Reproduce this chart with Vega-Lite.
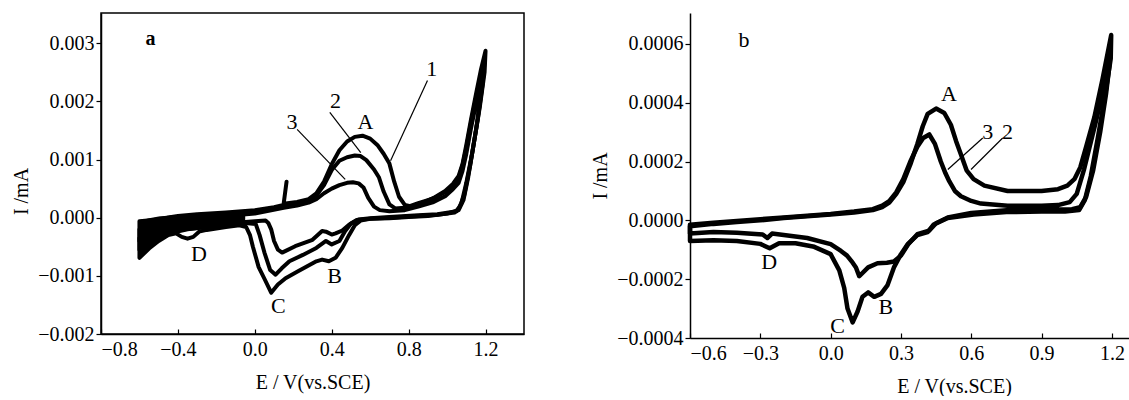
{
"$schema": "https://vega.github.io/schema/vega-lite/v6.json",
"padding": {"left": 10, "top": 12, "right": 0, "bottom": 0},
"config": {
  "font": "Liberation Serif",
  "view": {"stroke": "black", "strokeWidth": 1.5},
  "concat": {"spacing": 65},
  "axis": {"grid": false, "domainColor": "black", "domainWidth": 1.5, "tickColor": "black", "tickWidth": 1.2, "labelColor": "black", "titleColor": "black", "labelFontSize": 20, "titleFontSize": 20, "titleFontWeight": "normal", "labelFont": "Liberation Serif", "titleFont": "Liberation Serif"},
  "axisX": {"tickSize": -5, "labelPadding": 10, "titlePadding": 13},
  "axisY": {"tickSize": 5, "labelPadding": 2, "titlePadding": 6}
},
"datasets": {
  "blob": [
    {"E":-0.6,"lo":-0.00069,"hi":-0.00006},{"E":-0.575,"lo":-0.0006,"hi":-0.00003},{"E":-0.55,"lo":-0.00053,"hi":-0.00001},{"E":-0.5,"lo":-0.0004,"hi":0.00002},{"E":-0.45,"lo":-0.0003,"hi":0.00003},{"E":-0.42,"lo":-0.00025,"hi":0.00004},{"E":-0.3,"lo":-0.00021,"hi":0.00006},{"E":-0.2,"lo":-0.00018,"hi":0.00008},{"E":-0.1,"lo":-0.00014,"hi":0.0001},{"E":-0.05,"lo":-0.00012,"hi":0.00011}
  ],
  "cva": [
    {"c":1,"k":0,"E":0.165,"I":0.00062},{"c":1,"k":1,"E":0.15,"I":0.00024},{"c":1,"k":2,"E":0.22,"I":0.00027},{"c":1,"k":3,"E":0.28,"I":0.00032},{"c":1,"k":4,"E":0.32,"I":0.00042},{"c":1,"k":5,"E":0.36,"I":0.00062},{"c":1,"k":6,"E":0.40,"I":0.00092},{"c":1,"k":7,"E":0.44,"I":0.00116},{"c":1,"k":8,"E":0.48,"I":0.00131},{"c":1,"k":9,"E":0.52,"I":0.00139},{"c":1,"k":10,"E":0.56,"I":0.00141},{"c":1,"k":11,"E":0.60,"I":0.00136},{"c":1,"k":12,"E":0.64,"I":0.00124},{"c":1,"k":13,"E":0.67,"I":0.00110},{"c":1,"k":14,"E":0.70,"I":0.00093},{"c":1,"k":15,"E":0.725,"I":0.00062},{"c":1,"k":16,"E":0.75,"I":0.00036},{"c":1,"k":17,"E":0.78,"I":0.00022},{"c":1,"k":18,"E":0.82,"I":0.00019},{"c":1,"k":19,"E":0.87,"I":0.00025},{"c":1,"k":20,"E":0.93,"I":0.00034},{"c":1,"k":21,"E":0.99,"I":0.00046},{"c":1,"k":22,"E":1.03,"I":0.00058},{"c":1,"k":23,"E":1.06,"I":0.00072},{"c":1,"k":24,"E":1.08,"I":0.00092},{"c":1,"k":25,"E":1.10,"I":0.00125},{"c":1,"k":26,"E":1.125,"I":0.0017},{"c":1,"k":27,"E":1.15,"I":0.00212},{"c":1,"k":28,"E":1.175,"I":0.00253},{"c":1,"k":29,"E":1.2,"I":0.00287},{"c":1,"k":30,"E":1.195,"I":0.0025},{"c":1,"k":31,"E":1.17,"I":0.0019},{"c":1,"k":32,"E":1.14,"I":0.0013},{"c":1,"k":33,"E":1.11,"I":0.0007},{"c":1,"k":34,"E":1.085,"I":0.0003},{"c":1,"k":35,"E":1.06,"I":0.00013},{"c":1,"k":36,"E":1.0,"I":0.00007},{"c":1,"k":37,"E":0.9,"I":0.00003},{"c":1,"k":38,"E":0.8,"I":0.00001},{"c":1,"k":39,"E":0.7,"I":-0.00001},{"c":1,"k":40,"E":0.6,"I":-0.00002},{"c":1,"k":41,"E":0.55,"I":-0.00005},{"c":1,"k":42,"E":0.52,"I":-0.00013},{"c":1,"k":43,"E":0.49,"I":-0.0003},{"c":1,"k":44,"E":0.455,"I":-0.00052},{"c":1,"k":45,"E":0.42,"I":-0.00069},{"c":1,"k":46,"E":0.385,"I":-0.00075},{"c":1,"k":47,"E":0.35,"I":-0.00072},{"c":1,"k":48,"E":0.32,"I":-0.00075},{"c":1,"k":49,"E":0.27,"I":-0.00084},{"c":1,"k":50,"E":0.22,"I":-0.00093},{"c":1,"k":51,"E":0.16,"I":-0.00104},{"c":1,"k":52,"E":0.12,"I":-0.00115},{"c":1,"k":53,"E":0.085,"I":-0.00129},{"c":1,"k":54,"E":0.05,"I":-0.00105},{"c":1,"k":55,"E":0.02,"I":-0.00085},{"c":1,"k":56,"E":-0.01,"I":-0.0005},{"c":1,"k":57,"E":-0.025,"I":-0.0003},{"c":1,"k":58,"E":-0.045,"I":-0.00016},{"c":1,"k":59,"E":-0.08,"I":-0.00013},{"c":1,"k":60,"E":-0.15,"I":-0.00016},{"c":1,"k":61,"E":-0.25,"I":-0.00021},{"c":1,"k":62,"E":-0.29,"I":-0.00024},{"c":1,"k":63,"E":-0.32,"I":-0.00033},{"c":1,"k":64,"E":-0.35,"I":-0.00036},{"c":1,"k":65,"E":-0.38,"I":-0.00033},{"c":1,"k":66,"E":-0.41,"I":-0.00027},{"c":1,"k":67,"E":-0.45,"I":-0.0003},{"c":1,"k":68,"E":-0.5,"I":-0.0004},{"c":1,"k":69,"E":-0.55,"I":-0.00053},{"c":1,"k":70,"E":-0.6,"I":-0.00069},{"c":1,"k":71,"E":-0.6,"I":-0.00035},{"c":1,"k":72,"E":-0.55,"I":-0.00012},{"c":1,"k":73,"E":-0.5,"I":-0.00002},{"c":1,"k":74,"E":-0.4,"I":0.00003},{"c":1,"k":75,"E":-0.3,"I":0.00006},{"c":1,"k":76,"E":-0.15,"I":0.00009},{"c":1,"k":77,"E":0.0,"I":0.00013},{"c":1,"k":78,"E":0.1,"I":0.00018},{"c":1,"k":79,"E":0.15,"I":0.00022},
    {"c":2,"k":0,"E":0.15,"I":0.0002},{"c":2,"k":1,"E":0.22,"I":0.00024},{"c":2,"k":2,"E":0.28,"I":0.00029},{"c":2,"k":3,"E":0.32,"I":0.00038},{"c":2,"k":4,"E":0.36,"I":0.00056},{"c":2,"k":5,"E":0.40,"I":0.00082},{"c":2,"k":6,"E":0.44,"I":0.00098},{"c":2,"k":7,"E":0.48,"I":0.00104},{"c":2,"k":8,"E":0.52,"I":0.00107},{"c":2,"k":9,"E":0.55,"I":0.00106},{"c":2,"k":10,"E":0.58,"I":0.00099},{"c":2,"k":11,"E":0.62,"I":0.00083},{"c":2,"k":12,"E":0.646,"I":0.00069},{"c":2,"k":13,"E":0.67,"I":0.00045},{"c":2,"k":14,"E":0.70,"I":0.00023},{"c":2,"k":15,"E":0.73,"I":0.00016},{"c":2,"k":16,"E":0.78,"I":0.00017},{"c":2,"k":17,"E":0.85,"I":0.00025},{"c":2,"k":18,"E":0.93,"I":0.00033},{"c":2,"k":19,"E":0.99,"I":0.00044},{"c":2,"k":20,"E":1.03,"I":0.00056},{"c":2,"k":21,"E":1.06,"I":0.00068},{"c":2,"k":22,"E":1.08,"I":0.0009},{"c":2,"k":23,"E":1.10,"I":0.0012},{"c":2,"k":24,"E":1.125,"I":0.00165},{"c":2,"k":25,"E":1.15,"I":0.00205},{"c":2,"k":26,"E":1.175,"I":0.00242},{"c":2,"k":27,"E":1.195,"I":0.0027},{"c":2,"k":28,"E":1.185,"I":0.0023},{"c":2,"k":29,"E":1.16,"I":0.0017},{"c":2,"k":30,"E":1.13,"I":0.0011},{"c":2,"k":31,"E":1.10,"I":0.0006},{"c":2,"k":32,"E":1.075,"I":0.00025},{"c":2,"k":33,"E":1.05,"I":0.00011},{"c":2,"k":34,"E":0.95,"I":0.00006},{"c":2,"k":35,"E":0.85,"I":0.00004},{"c":2,"k":36,"E":0.7,"I":0.00001},{"c":2,"k":37,"E":0.6,"I":-0.00001},{"c":2,"k":38,"E":0.54,"I":-0.00003},{"c":2,"k":39,"E":0.5,"I":-0.0001},{"c":2,"k":40,"E":0.47,"I":-0.00023},{"c":2,"k":41,"E":0.44,"I":-0.0004},{"c":2,"k":42,"E":0.40,"I":-0.00046},{"c":2,"k":43,"E":0.37,"I":-0.0004},{"c":2,"k":44,"E":0.32,"I":-0.00052},{"c":2,"k":45,"E":0.25,"I":-0.00064},{"c":2,"k":46,"E":0.18,"I":-0.00075},{"c":2,"k":47,"E":0.14,"I":-0.00087},{"c":2,"k":48,"E":0.108,"I":-0.00098},{"c":2,"k":49,"E":0.08,"I":-0.0009},{"c":2,"k":50,"E":0.05,"I":-0.0006},{"c":2,"k":51,"E":0.025,"I":-0.0003},{"c":2,"k":52,"E":0.005,"I":-0.00011},{"c":2,"k":53,"E":-0.05,"I":-0.00009},{"c":2,"k":54,"E":-0.15,"I":-0.00012},{"c":2,"k":55,"E":-0.25,"I":-0.00016},{"c":2,"k":56,"E":-0.35,"I":-0.0002},{"c":2,"k":57,"E":-0.42,"I":-0.00025},{"c":2,"k":58,"E":-0.5,"I":-0.00033},{"c":2,"k":59,"E":-0.55,"I":-0.00042},{"c":2,"k":60,"E":-0.6,"I":-0.00055},{"c":2,"k":61,"E":-0.6,"I":-0.0002},{"c":2,"k":62,"E":-0.55,"I":-0.00007},{"c":2,"k":63,"E":-0.45,"I":0.0},{"c":2,"k":64,"E":-0.3,"I":0.00003},{"c":2,"k":65,"E":-0.15,"I":0.00006},{"c":2,"k":66,"E":0.0,"I":0.0001},{"c":2,"k":67,"E":0.15,"I":0.0002},
    {"c":3,"k":0,"E":0.15,"I":0.00017},{"c":3,"k":1,"E":0.22,"I":0.00021},{"c":3,"k":2,"E":0.28,"I":0.00026},{"c":3,"k":3,"E":0.32,"I":0.00032},{"c":3,"k":4,"E":0.36,"I":0.00042},{"c":3,"k":5,"E":0.40,"I":0.0005},{"c":3,"k":6,"E":0.44,"I":0.00056},{"c":3,"k":7,"E":0.48,"I":0.0006},{"c":3,"k":8,"E":0.51,"I":0.00061},{"c":3,"k":9,"E":0.54,"I":0.00059},{"c":3,"k":10,"E":0.565,"I":0.00052},{"c":3,"k":11,"E":0.59,"I":0.00034},{"c":3,"k":12,"E":0.62,"I":0.00019},{"c":3,"k":13,"E":0.65,"I":0.00013},{"c":3,"k":14,"E":0.70,"I":0.00011},{"c":3,"k":15,"E":0.78,"I":0.00013},{"c":3,"k":16,"E":0.85,"I":0.00019},{"c":3,"k":17,"E":0.93,"I":0.00027},{"c":3,"k":18,"E":0.99,"I":0.00037},{"c":3,"k":19,"E":1.03,"I":0.00049},{"c":3,"k":20,"E":1.06,"I":0.0006},{"c":3,"k":21,"E":1.08,"I":0.0008},{"c":3,"k":22,"E":1.10,"I":0.0011},{"c":3,"k":23,"E":1.125,"I":0.00155},{"c":3,"k":24,"E":1.15,"I":0.00195},{"c":3,"k":25,"E":1.175,"I":0.0023},{"c":3,"k":26,"E":1.19,"I":0.0025},{"c":3,"k":27,"E":1.175,"I":0.0021},{"c":3,"k":28,"E":1.15,"I":0.0015},{"c":3,"k":29,"E":1.12,"I":0.0009},{"c":3,"k":30,"E":1.09,"I":0.0004},{"c":3,"k":31,"E":1.065,"I":0.00018},{"c":3,"k":32,"E":1.04,"I":0.00009},{"c":3,"k":33,"E":0.95,"I":0.00005},{"c":3,"k":34,"E":0.85,"I":0.00003},{"c":3,"k":35,"E":0.7,"I":0.0},{"c":3,"k":36,"E":0.6,"I":-0.00002},{"c":3,"k":37,"E":0.53,"I":-0.00004},{"c":3,"k":38,"E":0.49,"I":-0.00012},{"c":3,"k":39,"E":0.455,"I":-0.00022},{"c":3,"k":40,"E":0.42,"I":-0.00027},{"c":3,"k":41,"E":0.40,"I":-0.00029},{"c":3,"k":42,"E":0.37,"I":-0.00024},{"c":3,"k":43,"E":0.35,"I":-0.00023},{"c":3,"k":44,"E":0.30,"I":-0.00038},{"c":3,"k":45,"E":0.21,"I":-0.00049},{"c":3,"k":46,"E":0.142,"I":-0.0006},{"c":3,"k":47,"E":0.12,"I":-0.00055},{"c":3,"k":48,"E":0.10,"I":-0.0004},{"c":3,"k":49,"E":0.085,"I":-0.0002},{"c":3,"k":50,"E":0.07,"I":-0.00009},{"c":3,"k":51,"E":0.056,"I":-0.00005},{"c":3,"k":52,"E":0.0,"I":-0.00006},{"c":3,"k":53,"E":-0.15,"I":-0.0001},{"c":3,"k":54,"E":-0.3,"I":-0.00014},{"c":3,"k":55,"E":-0.42,"I":-0.00017},{"c":3,"k":56,"E":-0.5,"I":-0.00024},{"c":3,"k":57,"E":-0.55,"I":-0.0003},{"c":3,"k":58,"E":-0.6,"I":-0.0004},{"c":3,"k":59,"E":-0.6,"I":-0.00006},{"c":3,"k":60,"E":-0.5,"I":-0.00003},{"c":3,"k":61,"E":-0.35,"I":0.0},{"c":3,"k":62,"E":-0.15,"I":0.00003},{"c":3,"k":63,"E":0.0,"I":0.00007},{"c":3,"k":64,"E":0.15,"I":0.00017}
  ],
  "cvb": [
    {"c":2,"k":0,"E":-0.6,"I":-0.00002},{"c":2,"k":1,"E":-0.5,"I":-0.000012},{"c":2,"k":2,"E":-0.4,"I":-0.000006},{"c":2,"k":3,"E":-0.3,"I":0.0},{"c":2,"k":4,"E":-0.2,"I":0.000008},{"c":2,"k":5,"E":-0.1,"I":0.000014},{"c":2,"k":6,"E":0.0,"I":0.00002},{"c":2,"k":7,"E":0.1,"I":0.000027},{"c":2,"k":8,"E":0.18,"I":0.000035},{"c":2,"k":9,"E":0.22,"I":0.000045},{"c":2,"k":10,"E":0.25,"I":0.00006},{"c":2,"k":11,"E":0.28,"I":0.00009},{"c":2,"k":12,"E":0.31,"I":0.00013},{"c":2,"k":13,"E":0.34,"I":0.00019},{"c":2,"k":14,"E":0.37,"I":0.00026},{"c":2,"k":15,"E":0.393,"I":0.00032},{"c":2,"k":16,"E":0.414,"I":0.000362},{"c":2,"k":17,"E":0.45,"I":0.00038},{"c":2,"k":18,"E":0.485,"I":0.000365},{"c":2,"k":19,"E":0.513,"I":0.000325},{"c":2,"k":20,"E":0.535,"I":0.00027},{"c":2,"k":21,"E":0.556,"I":0.000224},{"c":2,"k":22,"E":0.58,"I":0.00017},{"c":2,"k":23,"E":0.61,"I":0.00014},{"c":2,"k":24,"E":0.656,"I":0.000118},{"c":2,"k":25,"E":0.755,"I":0.0001},{"c":2,"k":26,"E":0.9,"I":0.0001},{"c":2,"k":27,"E":0.97,"I":0.000106},{"c":2,"k":28,"E":1.01,"I":0.000118},{"c":2,"k":29,"E":1.04,"I":0.00014},{"c":2,"k":30,"E":1.065,"I":0.00018},{"c":2,"k":31,"E":1.09,"I":0.00025},{"c":2,"k":32,"E":1.125,"I":0.00035},{"c":2,"k":33,"E":1.16,"I":0.00048},{"c":2,"k":34,"E":1.197,"I":0.00063},{"c":2,"k":35,"E":1.195,"I":0.00055},{"c":2,"k":36,"E":1.17,"I":0.00042},{"c":2,"k":37,"E":1.14,"I":0.00028},{"c":2,"k":38,"E":1.11,"I":0.00015},{"c":2,"k":39,"E":1.085,"I":0.00007},{"c":2,"k":40,"E":1.06,"I":0.000035},{"c":2,"k":41,"E":1.0,"I":0.00003},{"c":2,"k":42,"E":0.9,"I":0.00003},{"c":2,"k":43,"E":0.75,"I":0.000028},{"c":2,"k":44,"E":0.61,"I":0.00002},{"c":2,"k":45,"E":0.5,"I":0.000008},{"c":2,"k":46,"E":0.44,"I":-0.000014},{"c":2,"k":47,"E":0.414,"I":-0.00004},{"c":2,"k":48,"E":0.37,"I":-0.00005},{"c":2,"k":49,"E":0.33,"I":-0.00008},{"c":2,"k":50,"E":0.3,"I":-0.000115},{"c":2,"k":51,"E":0.27,"I":-0.00016},{"c":2,"k":52,"E":0.243,"I":-0.00022},{"c":2,"k":53,"E":0.215,"I":-0.00025},{"c":2,"k":54,"E":0.186,"I":-0.00026},{"c":2,"k":55,"E":0.16,"I":-0.000245},{"c":2,"k":56,"E":0.136,"I":-0.00026},{"c":2,"k":57,"E":0.115,"I":-0.00031},{"c":2,"k":58,"E":0.094,"I":-0.000347},{"c":2,"k":59,"E":0.072,"I":-0.0003},{"c":2,"k":60,"E":0.058,"I":-0.00023},{"c":2,"k":61,"E":0.037,"I":-0.00017},{"c":2,"k":62,"E":0.0,"I":-0.000115},{"c":2,"k":63,"E":-0.07,"I":-0.00009},{"c":2,"k":64,"E":-0.15,"I":-0.000078},{"c":2,"k":65,"E":-0.22,"I":-0.000078},{"c":2,"k":66,"E":-0.26,"I":-0.000095},{"c":2,"k":67,"E":-0.3,"I":-0.00008},{"c":2,"k":68,"E":-0.4,"I":-0.00007},{"c":2,"k":69,"E":-0.5,"I":-0.000068},{"c":2,"k":70,"E":-0.6,"I":-0.00007},{"c":2,"k":71,"E":-0.6,"I":-0.00002},
    {"c":3,"k":0,"E":-0.6,"I":-0.000015},{"c":3,"k":1,"E":-0.5,"I":-0.000008},{"c":3,"k":2,"E":-0.4,"I":-0.000002},{"c":3,"k":3,"E":-0.3,"I":0.000004},{"c":3,"k":4,"E":-0.2,"I":0.00001},{"c":3,"k":5,"E":-0.1,"I":0.000016},{"c":3,"k":6,"E":0.0,"I":0.000022},{"c":3,"k":7,"E":0.1,"I":0.00003},{"c":3,"k":8,"E":0.18,"I":0.000038},{"c":3,"k":9,"E":0.22,"I":0.00005},{"c":3,"k":10,"E":0.25,"I":0.000065},{"c":3,"k":11,"E":0.28,"I":0.000095},{"c":3,"k":12,"E":0.31,"I":0.00014},{"c":3,"k":13,"E":0.34,"I":0.0002},{"c":3,"k":14,"E":0.37,"I":0.00025},{"c":3,"k":15,"E":0.395,"I":0.00028},{"c":3,"k":16,"E":0.421,"I":0.000292},{"c":3,"k":17,"E":0.445,"I":0.00026},{"c":3,"k":18,"E":0.47,"I":0.0002},{"c":3,"k":19,"E":0.49,"I":0.00016},{"c":3,"k":20,"E":0.506,"I":0.000133},{"c":3,"k":21,"E":0.53,"I":0.0001},{"c":3,"k":22,"E":0.556,"I":0.000082},{"c":3,"k":23,"E":0.6,"I":0.000066},{"c":3,"k":24,"E":0.641,"I":0.000057},{"c":3,"k":25,"E":0.755,"I":0.00005},{"c":3,"k":26,"E":0.9,"I":0.00005},{"c":3,"k":27,"E":0.97,"I":0.000052},{"c":3,"k":28,"E":1.02,"I":0.000062},{"c":3,"k":29,"E":1.05,"I":0.00009},{"c":3,"k":30,"E":1.08,"I":0.00017},{"c":3,"k":31,"E":1.13,"I":0.00033},{"c":3,"k":32,"E":1.19,"I":0.00053},{"c":3,"k":33,"E":1.175,"I":0.00043},{"c":3,"k":34,"E":1.15,"I":0.0003},{"c":3,"k":35,"E":1.12,"I":0.00017},{"c":3,"k":36,"E":1.09,"I":0.00008},{"c":3,"k":37,"E":1.065,"I":0.000045},{"c":3,"k":38,"E":1.03,"I":0.000038},{"c":3,"k":39,"E":0.9,"I":0.000036},{"c":3,"k":40,"E":0.75,"I":0.000034},{"c":3,"k":41,"E":0.6,"I":0.000025},{"c":3,"k":42,"E":0.5,"I":0.00001},{"c":3,"k":43,"E":0.45,"I":-0.00001},{"c":3,"k":44,"E":0.42,"I":-0.000035},{"c":3,"k":45,"E":0.37,"I":-0.000047},{"c":3,"k":46,"E":0.33,"I":-0.000082},{"c":3,"k":47,"E":0.3,"I":-0.00012},{"c":3,"k":48,"E":0.27,"I":-0.00014},{"c":3,"k":49,"E":0.24,"I":-0.000144},{"c":3,"k":50,"E":0.2,"I":-0.000146},{"c":3,"k":51,"E":0.16,"I":-0.00016},{"c":3,"k":52,"E":0.122,"I":-0.00019},{"c":3,"k":53,"E":0.108,"I":-0.00016},{"c":3,"k":54,"E":0.094,"I":-0.000144},{"c":3,"k":55,"E":0.07,"I":-0.00012},{"c":3,"k":56,"E":0.044,"I":-0.000104},{"c":3,"k":57,"E":0.0,"I":-0.000081},{"c":3,"k":58,"E":-0.1,"I":-0.00006},{"c":3,"k":59,"E":-0.2,"I":-0.00005},{"c":3,"k":60,"E":-0.25,"I":-0.000045},{"c":3,"k":61,"E":-0.27,"I":-0.00006},{"c":3,"k":62,"E":-0.29,"I":-0.000048},{"c":3,"k":63,"E":-0.4,"I":-0.000042},{"c":3,"k":64,"E":-0.5,"I":-0.00004},{"c":3,"k":65,"E":-0.6,"I":-0.000045},{"c":3,"k":66,"E":-0.6,"I":-0.000015}
  ],
  "ta": [
    {"t":"1","E":0.92,"I":0.00256},{"t":"2","E":0.42,"I":0.00201},{"t":"3","E":0.194,"I":0.00164},{"t":"A","E":0.575,"I":0.00165},{"t":"B","E":0.415,"I":-0.001},{"t":"C","E":0.122,"I":-0.00152},{"t":"D","E":-0.29,"I":-0.00062}
  ],
  "tb": [
    {"t":"b","E":-0.37,"I":0.000614},{"t":"A","E":0.505,"I":0.00043},{"t":"3","E":0.67,"I":0.0003},{"t":"2","E":0.755,"I":0.0003},{"t":"B","E":0.236,"I":-0.000296},{"t":"C","E":0.03,"I":-0.00036},{"t":"D","E":-0.262,"I":-0.00014}
  ],
  "aa": [
    {"E1":0.898,"I1":0.00236,"E2":0.706,"I2":0.00098},{"E1":0.39,"I1":0.00181,"E2":0.551,"I2":0.00112},{"E1":0.22,"I1":0.00152,"E2":0.47,"I2":0.00066}
  ],
  "ab": [
    {"E1":0.649,"I1":0.00028,"E2":0.50,"I2":0.000173},{"E1":0.734,"I1":0.00028,"E2":0.599,"I2":0.000173}
  ]
},
"hconcat": [
  {
    "width": 423, "height": 321,
    "layer": [
      {
        "data": {"name": "blob"},
        "mark": {"type": "area", "color": "black"},
        "encoding": {
          "x": {"field": "E", "type": "quantitative", "scale": {"domain": [-0.8, 1.4], "nice": false, "zero": false},
                "axis": {"values": [-0.8, -0.4, 0, 0.4, 0.8, 1.2], "format": ".1f", "title": "E / V(vs.SCE)"}},
          "y": {"field": "lo", "type": "quantitative", "scale": {"domain": [-0.002, 0.00352], "nice": false, "zero": false},
                "axis": {"values": [-0.002, -0.001, 0, 0.001, 0.002, 0.003], "format": ".3f", "title": "I /mA", "titleY": 178}},
          "y2": {"field": "hi"}
        }
      },
      {
        "data": {"name": "cva"},
        "mark": {"type": "line", "stroke": "black", "strokeWidth": 4, "strokeJoin": "round", "strokeCap": "round"},
        "encoding": {
          "x": {"field": "E", "type": "quantitative"},
          "y": {"field": "I", "type": "quantitative"},
          "detail": {"field": "c", "type": "nominal"},
          "order": {"field": "k", "type": "quantitative"}
        }
      },
      {
        "data": {"name": "aa"},
        "mark": {"type": "rule", "stroke": "black", "strokeWidth": 1.2},
        "encoding": {
          "x": {"field": "E1", "type": "quantitative"},
          "y": {"field": "I1", "type": "quantitative"},
          "x2": {"field": "E2"},
          "y2": {"field": "I2"}
        }
      },
      {
        "data": {"name": "ta"},
        "mark": {"type": "text", "fontSize": 22, "font": "Liberation Serif", "color": "black", "align": "center", "baseline": "middle"},
        "encoding": {
          "x": {"field": "E", "type": "quantitative"},
          "y": {"field": "I", "type": "quantitative"},
          "text": {"field": "t"}
        }
      },
      {
        "data": {"values": [{"t": "a", "E": -0.543, "I": 0.00308}]},
        "mark": {"type": "text", "fontSize": 20, "fontWeight": "bold", "font": "Liberation Serif", "color": "black", "align": "center", "baseline": "middle"},
        "encoding": {
          "x": {"field": "E", "type": "quantitative"},
          "y": {"field": "I", "type": "quantitative"},
          "text": {"field": "t"}
        }
      }
    ]
  },
  {
    "width": 439, "height": 325,
    "view": {"stroke": null},
    "layer": [
      {
        "data": {"name": "cvb"},
        "mark": {"type": "line", "stroke": "black", "strokeWidth": 4.5, "strokeJoin": "round", "strokeCap": "round"},
        "encoding": {
          "x": {"field": "E", "type": "quantitative", "scale": {"domain": [-0.6, 1.273], "nice": false, "zero": false},
                "axis": {"values": [-0.6, -0.3, 0, 0.3, 0.6, 0.9, 1.2], "format": ".1f", "title": "E / V(vs.SCE)", "titleX": 264}},
          "y": {"field": "I", "type": "quantitative", "scale": {"domain": [-0.0004, 0.000705], "nice": false, "zero": false},
                "axis": {"values": [-0.0004, -0.0002, 0, 0.0002, 0.0004, 0.0006], "format": ".4f", "title": "I /mA"}},
          "detail": {"field": "c", "type": "nominal"},
          "order": {"field": "k", "type": "quantitative"}
        }
      },
      {
        "mark": {"type": "rule", "stroke": "black", "strokeWidth": 1.5},
        "encoding": {"y": {"datum": 0.000705}}
      },
      {
        "data": {"name": "ab"},
        "mark": {"type": "rule", "stroke": "black", "strokeWidth": 1.2},
        "encoding": {
          "x": {"field": "E1", "type": "quantitative"},
          "y": {"field": "I1", "type": "quantitative"},
          "x2": {"field": "E2"},
          "y2": {"field": "I2"}
        }
      },
      {
        "data": {"name": "tb"},
        "mark": {"type": "text", "fontSize": 22, "font": "Liberation Serif", "color": "black", "align": "center", "baseline": "middle"},
        "encoding": {
          "x": {"field": "E", "type": "quantitative"},
          "y": {"field": "I", "type": "quantitative"},
          "text": {"field": "t"}
        }
      }
    ]
  }
]
}
